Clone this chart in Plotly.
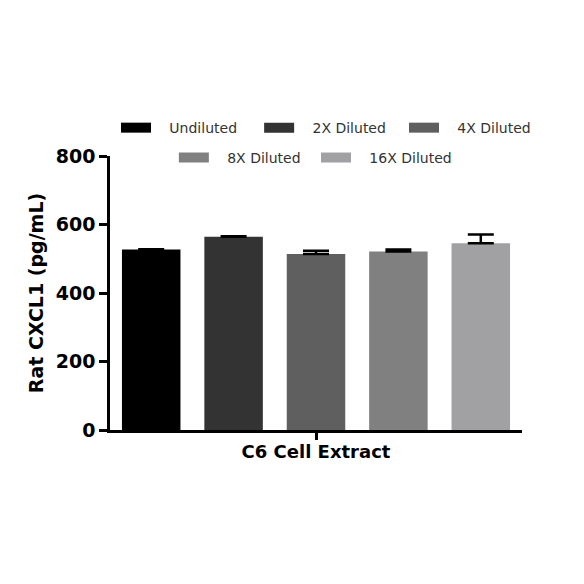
import plotly.graph_objects as go

category = ["C6 Cell Extract"]
series = ["Undiluted", "2X Diluted", "4X Diluted", "8X Diluted", "16X Diluted"]
means = [527, 564, 514, 521, 545]
errors = [1, 2, 9, 6, 26]
colors = ["#000000", "#333333", "#5f5f5f", "#808080", "#a1a1a4"]

BOLD = dict(family="DejaVu Sans", size=19, color="black", weight="bold")

fig = go.Figure()

for name, m, e, c in zip(series, means, errors, colors):
    fig.add_trace(go.Bar(
        x=category,
        y=[m],
        name=name,
        marker_color=c,
        marker_line_width=0,
        showlegend=False,
        error_y=dict(type="data", symmetric=False, array=[e], arrayminus=[0],
                     color="black", thickness=2.5, width=13),
    ))

# one legend per entry so the two centred rows can be placed like the original
legend_ids = ["legend", "legend2", "legend3", "legend4", "legend5"]
for name, c, lid in zip(series, colors, legend_ids):
    fig.add_trace(go.Scatter(
        x=[None], y=[None], mode="lines", name="\u00a0\u00a0\u00a0" + name,
        line=dict(color=c, width=10),
        legend=lid,
    ))

legend_style = dict(
    orientation="h", xanchor="left", yanchor="middle",
    font=dict(family="DejaVu Sans", size=14, color="#333333"),
    bgcolor="rgba(0,0,0,0)", itemwidth=30,
)
legend_pos = [(0.0146, 1.102), (0.362, 1.102), (0.7136, 1.102),
              (0.155, 0.993), (0.5, 0.993)]

fig.update_layout(
    width=584, height=584,
    paper_bgcolor="white", plot_bgcolor="white",
    # page body adds an 8px margin, so shift the plot area back by that
    margin=dict(l=102, r=70, t=148, b=162, autoexpand=False),
    barmode="group", bargap=0.0, bargroupgap=0.29,
    showlegend=True,
    xaxis=dict(
        showline=True, linecolor="black", linewidth=2.5,
        ticks="outside", ticklen=7, tickwidth=2.5, tickcolor="black",
        tickfont=dict(BOLD, size=18), ticklabelstandoff=-3,
        showgrid=False, zeroline=False,
    ),
    yaxis=dict(
        range=[0, 800], tickvals=[0, 200, 400, 600, 800],
        showline=True, linecolor="black", linewidth=2.5,
        ticks="outside", ticklen=8, tickwidth=2.5, tickcolor="black",
        tickfont=BOLD,
        title=dict(text="Rat CXCL1 (pg/mL)", standoff=8, font=BOLD),
        showgrid=False, zeroline=False,
    ),
)
for lid, (lx, ly) in zip(legend_ids, legend_pos):
    fig.update_layout({lid: dict(x=lx, y=ly, **legend_style)})

fig.write_html("out.html")
